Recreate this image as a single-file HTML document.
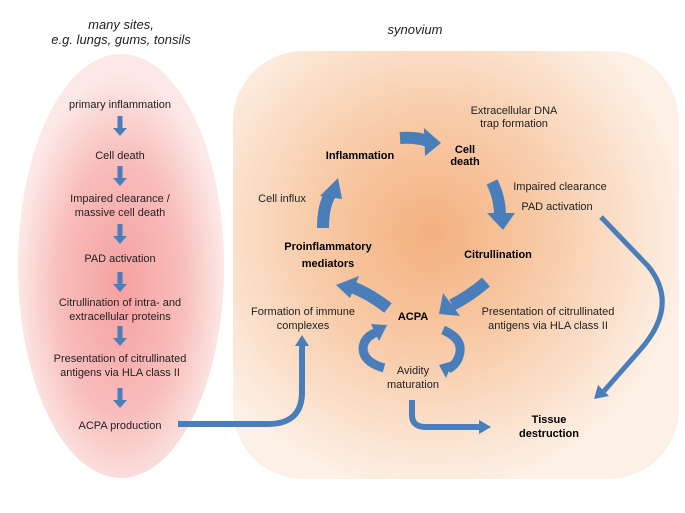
<!DOCTYPE html>
<html><head><style>
html,body{margin:0;padding:0;background:#fff;}
svg{display:block;font-family:"Liberation Sans",Arial,sans-serif;}
text{fill:#222;}
.b{font-weight:bold;fill:#000;}
</style></head><body>
<svg width="685" height="513" viewBox="0 0 685 513" xmlns="http://www.w3.org/2000/svg">
<defs>
<radialGradient id="gL" cx="0.5" cy="0.55" r="0.5">
<stop offset="0" stop-color="#f5a0a0"/>
<stop offset="0.6" stop-color="#f8bdbb"/>
<stop offset="1" stop-color="#fce8e6"/>
</radialGradient>
<radialGradient id="gR" gradientUnits="userSpaceOnUse" cx="430" cy="235" r="260">
<stop offset="0" stop-color="#f4b07e"/>
<stop offset="0.45" stop-color="#f8cba8"/>
<stop offset="1" stop-color="#fdf1e7"/>
</radialGradient>
<g id="da"><rect x="117.5" y="0" width="5" height="13"/><polygon points="113,12 127,12 120,20"/></g>
</defs>
<ellipse cx="121" cy="266" rx="103" ry="212" fill="url(#gL)"/>
<rect x="233" y="51" width="446" height="428" rx="70" ry="70" fill="url(#gR)"/>

<g font-size="13" font-style="italic" text-anchor="middle">
<text x="121" y="29">many sites,</text>
<text x="121" y="44">e.g. lungs, gums, tonsils</text>
<text x="415" y="34">synovium</text>
</g>

<g font-size="11" text-anchor="middle">
<text x="120" y="108">primary inflammation</text>
<text x="120" y="159">Cell death</text>
<text x="120" y="202">Impaired clearance /</text>
<text x="120" y="216">massive cell death</text>
<text x="120" y="262">PAD activation</text>
<text x="120" y="306">Citrullination of intra- and</text>
<text x="120" y="320">extracellular proteins</text>
<text x="120" y="362">Presentation of citrullinated</text>
<text x="120" y="376">antigens via HLA class II</text>
<text x="120" y="429">ACPA production</text>

<text x="514" y="114">Extracellular DNA</text>
<text x="514" y="127">trap formation</text>
<text x="560" y="190">Impaired clearance</text>
<text x="557" y="210">PAD activation</text>
<text x="282" y="202">Cell influx</text>
<text x="303" y="315">Formation of immune</text>
<text x="303" y="329">complexes</text>
<text x="548" y="315">Presentation of citrullinated</text>
<text x="548" y="329">antigens via HLA class II</text>
<text x="413" y="374">Avidity</text>
<text x="413" y="388">maturation</text>
</g>
<g font-size="11" text-anchor="middle">
<text class="b" x="360" y="159">Inflammation</text>
<text class="b" x="465" y="153">Cell</text>
<text class="b" x="465" y="165">death</text>
<text class="b" x="328" y="250">Proinflammatory</text>
<text class="b" x="328" y="267">mediators</text>
<text class="b" x="498" y="258">Citrullination</text>
<text class="b" x="413" y="320">ACPA</text>
<text class="b" x="549" y="423">Tissue</text>
<text class="b" x="549" y="437">destruction</text>
</g>

<g fill="#4a7ebb" stroke="none">
<use href="#da" transform="translate(0,116)"/>
<use href="#da" transform="translate(0,166)"/>
<use href="#da" transform="translate(0,224)"/>
<use href="#da" transform="translate(0,272)"/>
<use href="#da" transform="translate(0,326)"/>
<use href="#da" transform="translate(0,388)"/>
</g>

<g fill="none" stroke="#4a7ebb" stroke-linecap="butt">
<path d="M178 424 H268 Q302 424 302 392 V346" stroke-width="6"/>
<path d="M412 400 V415 Q412 427 426 427 H480" stroke-width="6"/>
<path d="M601 217 L648 266 Q680 305 640 350 L604 391" stroke-width="5"/>
<path d="M400 138 Q416 137 428 141" stroke-width="12"/>
<path d="M492 182 Q500 198 500 216" stroke-width="12"/>
<path d="M486 282 Q470 296 452 305" stroke-width="12"/>
<path d="M388 308 Q370 294 352 287" stroke-width="12"/>
<path d="M323 228 Q323 205 331 193" stroke-width="12"/>
<path d="M384 368 Q363 362 363 348 Q364 337 377 332" stroke-width="9"/>
<path d="M443 330 Q462 338 460 352 Q458 364 448 369" stroke-width="9"/>
</g>
<g fill="#4a7ebb">
<polygon points="295,346 309,346 302,335"/>
<polygon points="479,420 479,434 491,427"/>
<polygon points="598,385 609,396 594,399"/>
<polygon points="424,128 441,143 425,156"/>
<polygon points="487,213 515,213 503,230"/>
<polygon points="443,293 460,316 439,314"/>
<polygon points="359,276 350,298 336,285"/>
<polygon points="320,196 342,199 338,178"/>
<polygon points="371,324 379,341 387,325"/>
<polygon points="453,361 446,378 439,365"/>
</g>
</svg>
</body></html>
